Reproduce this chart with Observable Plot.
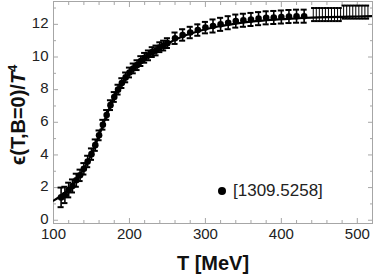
<!DOCTYPE html>
<html><head><meta charset="utf-8">
<script src="https://cdn.jsdelivr.net/npm/d3@7"></script>
<script src="https://cdn.jsdelivr.net/npm/@observablehq/plot@0.6"></script>
<style>
body{margin:0;background:#fff;}
#chart{position:relative;width:374px;height:276px;font-family:"Liberation Sans",Arial,sans-serif;}
#legend{position:absolute;left:218px;top:181px;display:flex;align-items:center;font-size:17px;color:#222;}
#legend .dot{width:8px;height:8px;border-radius:50%;background:#000;margin-right:7px;}
</style>
</head><body><div id="chart"><div id="legend"><span class="dot"></span><span id="legtext"></span></div></div>
<script>
// fitted curve (eps/T^4 vs T)
const curveT = [100,110,120,130,140,150,160,170,180,190,200,210,220,230,240,250,260,270,280,300,320,340,360,380,400,420,440,460,480,500,520];
const curveE = [1.2,1.5,1.9,2.45,3.15,4.05,5.2,6.45,7.55,8.4,9.0,9.5,9.9,10.25,10.55,10.8,11.05,11.25,11.42,11.7,11.9,12.05,12.17,12.25,12.32,12.37,12.41,12.44,12.46,12.48,12.5];
// lattice data points
const dataT = [110,115,120,125,130,135,140,145,150,155,160,165,170,175,180,185,190,195,200,205,210,215,220,225,230,235,240,245,250,260,270,280,290,300,310,320,330,340,350,360,370,380,390,400,410,420,430];
const dataE = [1.4,1.55,1.85,2.1,2.45,2.75,3.15,3.6,4.05,4.6,5.2,5.85,6.45,7.05,7.55,8.0,8.4,8.75,9.05,9.3,9.5,9.75,9.95,10.1,10.3,10.4,10.6,10.7,10.85,11.15,11.35,11.5,11.65,11.8,11.9,12.0,12.1,12.2,12.25,12.3,12.35,12.4,12.42,12.45,12.48,12.5,12.5];
const dataErr = [0.6,0.5,0.45,0.4,0.4,0.35,0.35,0.35,0.35,0.35,0.3,0.3,0.3,0.3,0.3,0.3,0.3,0.3,0.3,0.3,0.3,0.3,0.3,0.3,0.3,0.3,0.3,0.3,0.3,0.35,0.35,0.35,0.35,0.35,0.4,0.4,0.4,0.4,0.4,0.4,0.4,0.4,0.4,0.4,0.4,0.4,0.4];
// dense high-T points
const denseT = [442,446,450,454,458,462,466,470,474,478,482,486,490,494,498,502,506,510,514];
const denseE = [12.6,12.6,12.6,12.6,12.6,12.6,12.6,12.6,12.6,12.6,12.75,12.75,12.75,12.75,12.75,12.75,12.75,12.75,12.75];
const denseErr = [0.4,0.4,0.4,0.4,0.4,0.4,0.4,0.4,0.4,0.4,0.4,0.4,0.4,0.4,0.4,0.4,0.4,0.4,0.4];
// ticks & text
const xMajor = [100,200,300,400,500];
const xMinor = [120,140,160,180,220,240,260,280,320,340,360,380,420,440,460,480,520];
const yMajor = [0,2,4,6,8,10,12];
const yMinor = [1,3,5,7,9,11,13];
const legendLabel = "[1309.5258]";
const xLabel = "T [MeV]";

const curve = curveT.map((t,i)=>({t, e: curveE[i]}));
const pts = dataT.map((t,i)=>({t, e: dataE[i], err: dataErr[i]}));
const dense = denseT.map((t,i)=>({t, e: denseE[i], err: denseErr[i]}));
const cap = 4;
const frame = "#a6a6a6";

const plot = Plot.plot({
  width: 374, height: 276,
  marginLeft: 53, marginRight: 2, marginTop: 1, marginBottom: 53,
  style: {fontFamily: "Liberation Sans, Arial, sans-serif", fontSize: "15px", color: "#222", background: "#fff"},
  x: {domain: [100, 520]},
  y: {domain: [-0.2, 13.4]},
  marks: [
    Plot.frame({stroke: frame}),
    Plot.axisX({anchor: "bottom", ticks: xMajor, tickSize: -5, fill: "none", stroke: frame, label: null}),
    Plot.axisX({anchor: "bottom", ticks: xMinor, tickSize: -3, fill: "none", stroke: frame, label: null}),
    Plot.axisX({anchor: "top", ticks: xMajor, tickSize: -5, fill: "none", stroke: frame, label: null}),
    Plot.axisX({anchor: "top", ticks: xMinor, tickSize: -3, fill: "none", stroke: frame, label: null}),
    Plot.axisY({anchor: "left", ticks: yMajor, tickSize: -5, fill: "none", stroke: frame, label: null}),
    Plot.axisY({anchor: "left", ticks: yMinor, tickSize: -3, fill: "none", stroke: frame, label: null}),
    Plot.axisY({anchor: "right", ticks: yMajor, tickSize: -5, fill: "none", stroke: frame, label: null}),
    Plot.axisY({anchor: "right", ticks: yMinor, tickSize: -3, fill: "none", stroke: frame, label: null}),
    Plot.axisX({anchor: "bottom", ticks: xMajor, tickSize: 0, tickPadding: 5, fill: "#222", label: null, tickFormat: d => String(d)}),
    Plot.axisY({anchor: "left", ticks: yMajor, tickSize: 0, tickPadding: 5, dy: -1, fill: "#222", label: null, tickFormat: d => String(d)}),
    Plot.line(curve, {x: "t", y: "e", curve: "catmull-rom", stroke: "#000", strokeWidth: 2.2, clip: true}),
    Plot.ruleX(pts, {x: "t", y1: d => d.e - d.err, y2: d => d.e + d.err, stroke: "#000", strokeWidth: 1.6}),
    Plot.ruleY(pts, {y: d => d.e + d.err, x1: d => d.t - cap, x2: d => d.t + cap, stroke: "#000", strokeWidth: 2}),
    Plot.ruleY(pts, {y: d => d.e - d.err, x1: d => d.t - cap, x2: d => d.t + cap, stroke: "#000", strokeWidth: 2}),
    Plot.dot(pts, {x: "t", y: "e", r: 3.3, fill: "#000", stroke: "none"}),
    Plot.ruleX(dense, {x: "t", y1: d => d.e - d.err, y2: d => d.e + d.err, stroke: "#000", strokeWidth: 1}),
    Plot.ruleY(dense, {y: d => d.e + d.err, x1: d => d.t - 2.2, x2: d => d.t + 2.2, stroke: "#000", strokeWidth: 2}),
    Plot.ruleY(dense, {y: d => d.e - d.err, x1: d => d.t - 2.2, x2: d => d.t + 2.2, stroke: "#000", strokeWidth: 2})
  ]
});
const svg = d3.select(plot);
svg.append("text")
  .attr("x", 213).attr("y", 270)
  .attr("text-anchor", "middle")
  .attr("font-weight", "bold").attr("font-size", 20).attr("fill", "#111")
  .text(xLabel);
const yl = svg.append("text")
  .attr("transform", "translate(25,115) rotate(-90)")
  .attr("text-anchor", "middle")
  .attr("font-weight", "bold").attr("font-size", 20).attr("fill", "#111");
yl.append("tspan").text("\u03F5(T,B=0)/");
yl.append("tspan").attr("font-style", "italic").text("T");
yl.append("tspan").attr("font-size", 13).attr("dy", -8).text("4");
document.getElementById("chart").prepend(plot);
document.getElementById("legtext").textContent = legendLabel;
</script></body></html>
